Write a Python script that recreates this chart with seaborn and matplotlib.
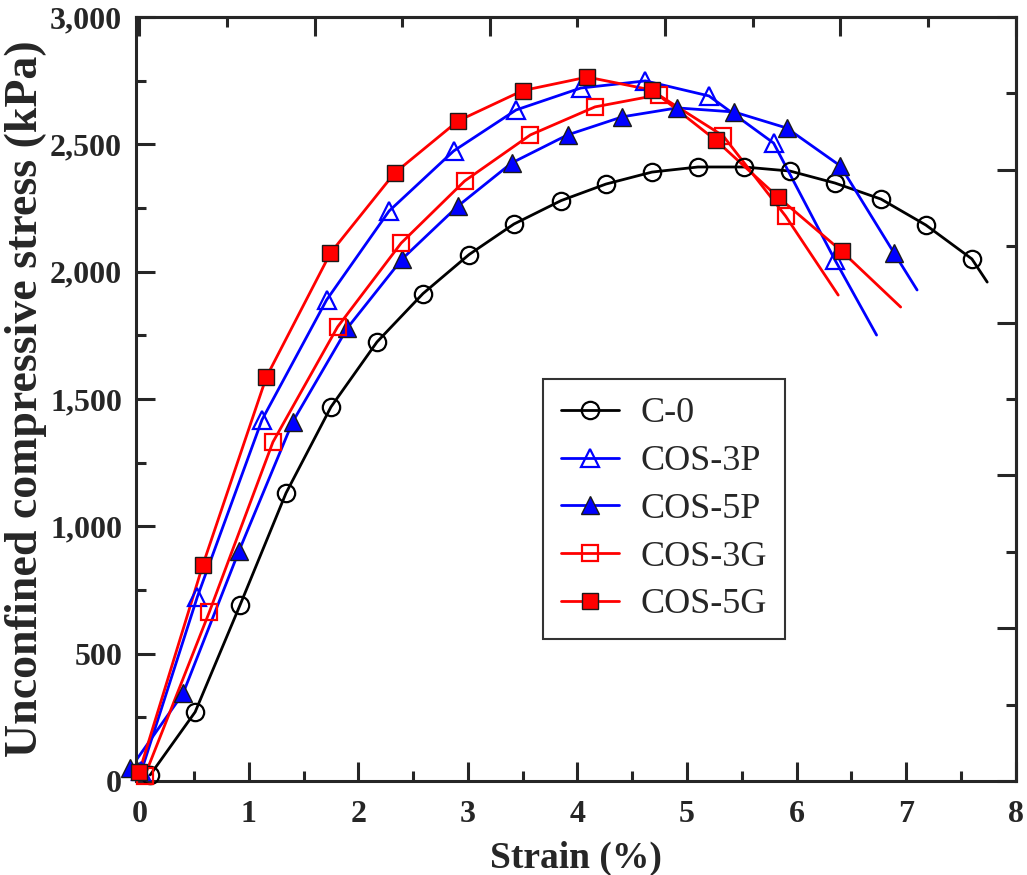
import numpy as np
import pandas as pd
import seaborn as sns
import matplotlib.pyplot as plt
from matplotlib.lines import Line2D
from matplotlib.ticker import MultipleLocator, FuncFormatter

# values (strain %, stress kPa)
series_names = ['C-0', 'COS-3P', 'COS-5P', 'COS-3G', 'COS-5G']

c0_x = [0.10, 0.51, 0.92, 1.34, 1.75, 2.17, 2.59, 3.01, 3.42, 3.85, 4.26, 4.68, 5.10, 5.52, 5.94, 6.35, 6.77, 7.18, 7.60]
c0_y = [24, 271, 691, 1131, 1469, 1724, 1914, 2067, 2187, 2279, 2344, 2391, 2411, 2411, 2395, 2348, 2285, 2183, 2050]
c0_end = (7.74, 1959)

p3_x = [0.02, 0.53, 1.12, 1.71, 2.28, 2.87, 3.44, 4.03, 4.62, 5.20, 5.79, 6.35]
p3_y = [40, 723, 1418, 1889, 2238, 2474, 2635, 2721, 2749, 2690, 2505, 2046]
p3_end = (6.73, 1751)

p5_x = [-0.08, 0.40, 0.91, 1.40, 1.90, 2.40, 2.91, 3.40, 3.91, 4.41, 4.91, 5.43, 5.91, 6.40, 6.89]
p5_y = [50, 344, 903, 1410, 1779, 2050, 2258, 2427, 2537, 2608, 2643, 2627, 2564, 2415, 2073]
p5_end = (7.10, 1928)

g3_x = [0.05, 0.64, 1.22, 1.81, 2.39, 2.97, 3.57, 4.16, 4.74, 5.33, 5.90]
g3_y = [20, 664, 1331, 1783, 2112, 2356, 2537, 2647, 2694, 2533, 2218]
g3_end = (6.38, 1908)

g5_x = [0.00, 0.58, 1.16, 1.745, 2.33, 2.91, 3.50, 4.09, 4.68, 5.26, 5.83, 6.41]
g5_y = [35, 848, 1586, 2073, 2387, 2592, 2711, 2764, 2713, 2517, 2293, 2081]
g5_end = (6.95, 1861)

colors = {'C-0': 'black', 'COS-3P': '#0000ff', 'COS-5P': '#0000ff',
          'COS-3G': '#ff0000', 'COS-5G': '#ff0000'}
markers = {'C-0': 'o', 'COS-3P': '^', 'COS-5P': '^', 'COS-3G': 's', 'COS-5G': 's'}
filled = {'C-0': False, 'COS-3P': False, 'COS-5P': True, 'COS-3G': False, 'COS-5G': True}
msize = {'o': 12.5, '^': 13, 's': 11.5}

data = {'C-0': (c0_x, c0_y, c0_end), 'COS-3P': (p3_x, p3_y, p3_end),
        'COS-5P': (p5_x, p5_y, p5_end), 'COS-3G': (g3_x, g3_y, g3_end),
        'COS-5G': (g5_x, g5_y, g5_end)}

# long table for the curves (marker points + curve tail)
rows = []
for name, (xs, ys, end) in data.items():
    for i, (a, b) in enumerate(zip(list(xs) + [end[0]], list(ys) + [end[1]])):
        rows.append({'series': name, 'order': i, 'strain': a, 'stress': b})
df = pd.DataFrame(rows)

sns.set_style('ticks')
plt.rcParams['font.family'] = ['Liberation Serif', 'DejaVu Serif']
plt.rcParams['axes.linewidth'] = 2.2

fig = plt.figure(figsize=(10.27, 8.75), dpi=100)
ax = fig.add_axes([0.1324, 0.1074, 0.8566, 0.8732])

sns.lineplot(data=df, x='strain', y='stress', hue='series', palette=colors,
             sort=False, estimator=None, units='series', linewidth=2.0,
             legend=False, ax=ax)

handles = []
for name in series_names:
    xs, ys, _ = data[name]
    c = colors[name]
    m = markers[name]
    kw = dict(marker=m, markersize=msize[m], color=c)
    if filled[name]:
        kw.update(markerfacecolor=c, markeredgecolor='#1a1a1a', markeredgewidth=1.0)
    else:
        kw.update(markerfacecolor='none', markeredgecolor=c, markeredgewidth=1.6)
    ax.plot(xs, ys, linestyle='none', clip_on=False, zorder=5, **kw)
    handles.append(Line2D([0], [0], linestyle='-', linewidth=2.0, label=name, **kw))

ax.set_xlim(-0.03, 8.0)
ax.set_ylim(0, 3000)
ax.xaxis.set_major_locator(MultipleLocator(1))
ax.xaxis.set_minor_locator(MultipleLocator(0.5))
ax.yaxis.set_major_locator(MultipleLocator(500))
ax.yaxis.set_minor_locator(MultipleLocator(250))
ax.yaxis.set_major_formatter(FuncFormatter(lambda v, p: f'{int(v):,}'))

ax.tick_params(which='both', direction='in', width=2.2, top=False, right=False)
ax.tick_params(which='major', length=14, labelsize=23)
ax.tick_params(axis='x', which='major', pad=14)
ax.tick_params(axis='y', which='major', pad=10)
ax.tick_params(which='minor', length=7)
for lab in ax.get_xticklabels() + ax.get_yticklabels():
    lab.set_fontweight('bold')

# mirrored axes on top/right with their own tick spacing
top = ax.secondary_xaxis('top')
top.xaxis.set_major_locator(MultipleLocator(1.6))
top.xaxis.set_minor_locator(MultipleLocator(0.8))
top.tick_params(which='both', direction='in', width=2.2, labeltop=False)
top.tick_params(which='major', length=14)
top.tick_params(which='minor', length=7)
right = ax.secondary_yaxis('right')
right.yaxis.set_major_locator(MultipleLocator(600))
right.yaxis.set_minor_locator(MultipleLocator(300))
right.tick_params(which='both', direction='in', width=2.2, labelright=False)
right.tick_params(which='major', length=14)
right.tick_params(which='minor', length=7)

ax.set_xlabel('Strain (%)', fontsize=27, fontweight='bold', labelpad=8)
ax.set_ylabel('Unconfined compressive stress (kPa)', fontsize=33, fontweight='bold', labelpad=2)

leg = ax.legend(handles=handles, loc='upper left', bbox_to_anchor=(0.4625, 0.526),
                borderaxespad=0, fontsize=26, frameon=True, fancybox=False,
                handlelength=1.6, handletextpad=0.6, labelspacing=0.4,
                borderpad=0.5, edgecolor='black')
leg.get_frame().set_linewidth(1.5)

fig.savefig('out.png', dpi=100)
